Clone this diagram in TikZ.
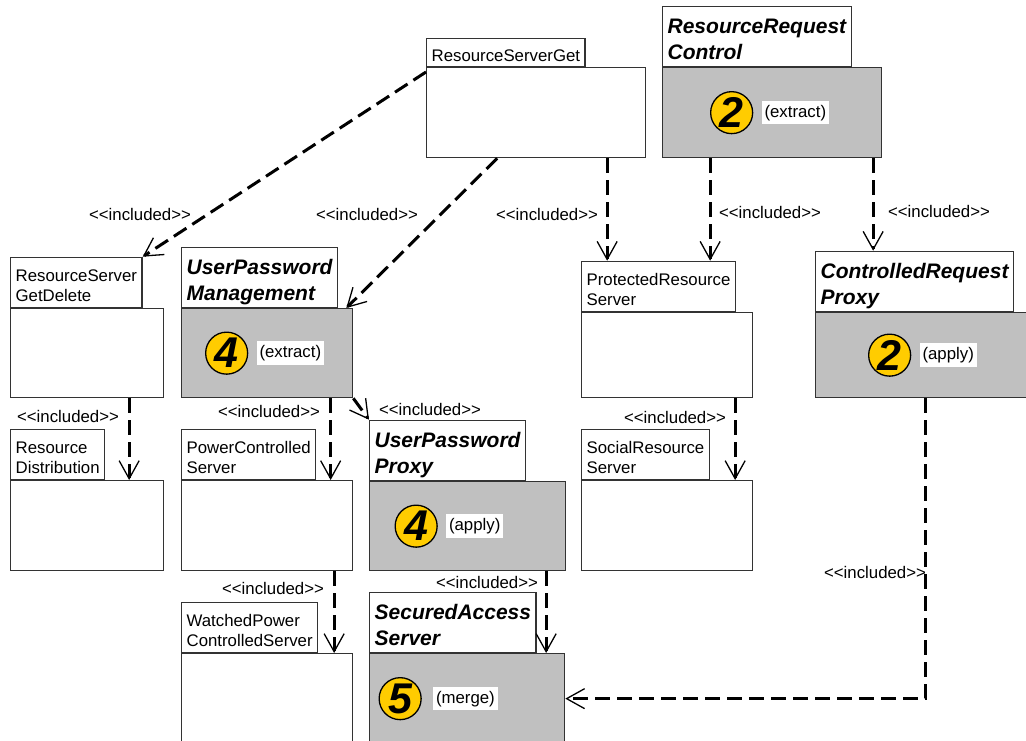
\documentclass[tikz,border=0pt]{standalone}
\usepackage{fontspec}
\setmainfont{Liberation Sans}
\usetikzlibrary{arrows.meta, positioning}
\definecolor{pkgray}{HTML}{C0C0C0}
\definecolor{pkyellow}{HTML}{FFCC00}
\definecolor{pkline}{HTML}{333333}

\begin{document}
\begin{tikzpicture}[
  x=1pt, y=-1pt,
  body/.style={rectangle, draw=pkline, line width=1.3pt, fill=#1, anchor=north west, inner sep=0pt},
  body/.default=white,
  tabbox/.style={rectangle, draw=pkline, line width=1.3pt, fill=white, anchor=south west, align=left,
    inner xsep=5pt, inner ysep=0pt},
  tab/.style={tabbox, font=\fontsize{16.8}{20}\selectfont,
    execute at begin node={\rule[-6.3pt]{0pt}{50pt}}},
  ltab/.style={tabbox, font=\fontsize{16.8}{20}\selectfont,
    execute at begin node={\rule[-5.3pt]{0pt}{28pt}}},
  ctab/.style={tabbox, font=\fontsize{21}{25.5}\selectfont\bfseries\itshape,
    execute at begin node={\rule[-7pt]{0pt}{60pt}}},
  num/.style={circle, draw=black, line width=1.3pt, fill=pkyellow, minimum size=42pt, inner sep=0pt,
    font=\fontsize{43}{43}\selectfont\bfseries\itshape},
  op/.style={fill=white, inner xsep=3pt, inner ysep=4pt, font=\fontsize{16.8}{20}\selectfont},
  lbl/.style={inner sep=0pt, font=\fontsize{16.8}{20}\selectfont},
  dep/.style={line width=3pt, dash pattern=on 15pt off 7pt,
    -{Straight Barb[length=18pt, width=20pt, line width=1.3pt]}},
]
  \useasboundingbox (0,0) rectangle (1026,740);

  \node[body, minimum width=219pt, minimum height=90pt] (rsget) at (426,67) {};
  \node[ltab] (rsgettab) at (rsget.north west) {ResourceServerGet};

  \node[body=pkgray, minimum width=219pt, minimum height=90pt] (rrctl) at (662,67) {};
  \node[ctab] (rrctltab) at (rrctl.north west) {ResourceRequest\\Control};
  \node[num] (rrctlnum) at ([xshift=-40.5pt]rrctl.center) {2};
  \node[op, right=8pt of rrctlnum] (rrctlop) {(extract)};

  \node[body, minimum width=153pt, minimum height=89pt] (rsgdel) at (10,308) {};
  \node[tab] (rsgdeltab) at (rsgdel.north west) {ResourceServer\\GetDelete};

  \node[body=pkgray, minimum width=171pt, minimum height=89pt] (upmgmt) at (181,308) {};
  \node[ctab] (upmgmttab) at (upmgmt.north west) {UserPassword\\Management};
  \node[num] (upmgmtnum) at ([xshift=-40.5pt]upmgmt.center) {4};
  \node[op, right=8pt of upmgmtnum] (upmgmtop) {(extract)};

  \node[body, minimum width=171pt, minimum height=85pt] (protres) at (581,312) {};
  \node[tab] (protrestab) at (protres.north west) {ProtectedResource\\Server};

  \node[body=pkgray, minimum width=229pt, minimum height=85pt] (ctlproxy) at (815,312) {};
  \node[ctab] (ctlproxytab) at (ctlproxy.north west) {ControlledRequest\\Proxy};
  \node[num] (ctlproxynum) at ([xshift=-40.5pt]ctlproxy.center) {2};
  \node[op, right=8pt of ctlproxynum] (ctlproxyop) {(apply)};

  \node[body, minimum width=153pt, minimum height=90pt] (resdist) at (10,480) {};
  \node[tab] (resdisttab) at (resdist.north west) {Resource\\Distribution};

  \node[body, minimum width=171pt, minimum height=90pt] (powctl) at (181,480) {};
  \node[tab] (powctltab) at (powctl.north west) {PowerControlled\\Server};

  \node[body=pkgray, minimum width=196pt, minimum height=89pt] (upproxy) at (369,481) {};
  \node[ctab] (upproxytab) at (upproxy.north west) {UserPassword\\Proxy};
  \node[num] (upproxynum) at ([xshift=-51.5pt]upproxy.center) {4};
  \node[op, right=8pt of upproxynum] (upproxyop) {(apply)};

  \node[body, minimum width=171pt, minimum height=90pt] (socres) at (581,480) {};
  \node[tab] (socrestab) at (socres.north west) {SocialResource\\Server};

  \node[body, minimum width=171pt, minimum height=90pt] (watchpow) at (181,653) {};
  \node[tab] (watchpowtab) at (watchpow.north west) {WatchedPower\\ControlledServer};

  \node[body=pkgray, minimum width=195pt, minimum height=90pt] (secacc) at (369,653) {};
  \node[ctab] (secacctab) at (secacc.north west) {SecuredAccess\\Server};
  \node[num] (secaccnum) at ([xshift=-67pt]secacc.center) {5};
  \node[op, right=11pt of secaccnum] (secaccop) {(merge)};

  \draw[dep] ([yshift=-5pt]rsget.north west) -- (rsgdeltab.north east);
  \draw[dep] ([xshift=-39pt]rsget.south) -- ([xshift=-7pt]upmgmt.north east);
  \draw[dep] ([xshift=71pt]rsget.south) -- ([xshift=71pt]rsget.south |- protrestab.north);
  \draw[dep] ([xshift=-62pt]rrctl.south) -- ([xshift=-62pt]rrctl.south |- protrestab.north);
  \draw[dep] ([xshift=101pt]rrctl.south) -- ([xshift=101pt]rrctl.south |- ctlproxytab.north);
  \draw[dep] ([xshift=42pt]rsgdel.south) -- ([xshift=42pt]rsgdel.south |- resdist.north);
  \draw[dep] ([xshift=63.5pt]upmgmt.south) -- ([xshift=63.5pt]upmgmt.south |- powctl.north);
  \draw[dep] (upmgmt.south east) -- (upproxytab.north west);
  \draw[dep] ([xshift=67pt]powctl.south) -- ([xshift=67pt]powctl.south |- watchpow.north);
  \draw[dep] ([xshift=78.5pt]upproxy.south) -- ([xshift=78.5pt]upproxy.south |- secacc.north);
  \draw[dep] ([xshift=68pt]protres.south) -- ([xshift=68pt]protres.south |- socres.north);
  \draw[dep] ([xshift=-5pt]ctlproxy.south) |- (secacc.east);

  \node[lbl] (inc1) at (140,214) {<{}<included>{}>};
  \node[lbl] (inc2) at (367,214) {<{}<included>{}>};
  \node[lbl] (inc3) at (547,214) {<{}<included>{}>};
  \node[lbl] (inc4) at (770,212) {<{}<included>{}>};
  \node[lbl] (inc5) at (939,211) {<{}<included>{}>};
  \node[lbl] (inc6) at (68,416) {<{}<included>{}>};
  \node[lbl] (inc7) at (269,411) {<{}<included>{}>};
  \node[lbl] (inc8) at (430,409) {<{}<included>{}>};
  \node[lbl] (inc9) at (273,588) {<{}<included>{}>};
  \node[lbl] (inc10) at (487,582) {<{}<included>{}>};
  \node[lbl] (inc11) at (675,417) {<{}<included>{}>};
  \node[lbl] (inc12) at (875,572) {<{}<included>{}>};
\end{tikzpicture}
\end{document}
